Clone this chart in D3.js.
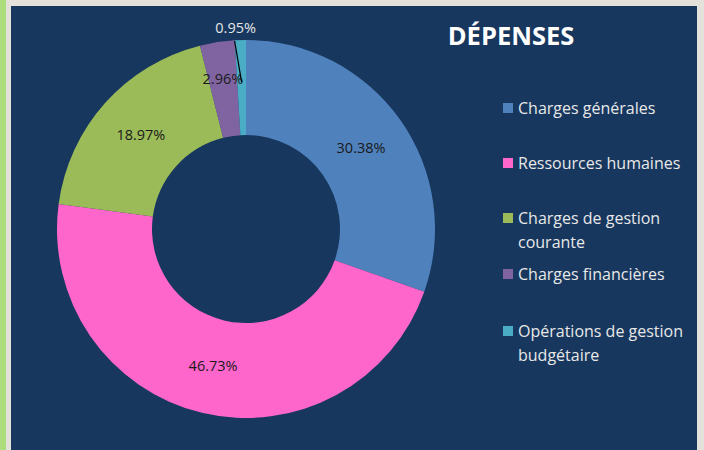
<!DOCTYPE html>
<html>
<head>
<meta charset="utf-8">
<script src="https://cdn.jsdelivr.net/npm/d3@7"></script>
<style>
  body { margin: 0; background: #e4e1db; }
  #chart { width: 704px; height: 450px; }
</style>
</head>
<body>
<div id="chart"></div>
<script>
const categories = ["Charges générales", "Ressources humaines", "Charges de gestion courante", "Charges financières", "Opérations de gestion budgétaire"];
const values = [30.38, 46.73, 18.97, 2.96, 0.95];
const colors = ["#4f81bd", "#ff66cc", "#9bbb59", "#8064a2", "#4bacc6"];
const legendLines = [["Charges générales"], ["Ressources humaines"], ["Charges de gestion", "courante"], ["Charges financières"], ["Opérations de gestion", "budgétaire"]];

function drawChart() {
    const W = 704, H = 450;
    const cx = 246, cy = 229, outerR = 189, innerR = 94;

    const svg = d3.select("#chart").append("svg")
        .attr("width", W)
        .attr("height", H);

    // fond
    svg.append("rect").attr("x", 0).attr("y", 0).attr("width", 6).attr("height", H).attr("fill", "#acdc7c");
    svg.append("rect").attr("x", 11).attr("y", 6).attr("width", 686).attr("height", H - 6).attr("fill", "#17375e");

    const pie = d3.pie().sort(null).value(d => d.value);
    const data = pie(values.map((v, i) => ({ name: categories[i], value: v, color: colors[i] })));

    const arc = d3.arc().innerRadius(innerR).outerRadius(outerR);
    const g = svg.append("g").attr("transform", `translate(${cx},${cy})`);

    g.selectAll("path")
        .data(data)
        .enter().append("path")
        .attr("d", arc)
        .attr("fill", d => d.data.color);

    const pointAt = (d, r) => {
        const a = (d.startAngle + d.endAngle) / 2;
        return [r * Math.sin(a), -r * Math.cos(a)];
    };
    const fmt = v => v.toFixed(2) + "%";

    // étiquettes
    data.forEach(d => {
        if (d.data.value < 1) {
            const [px, py] = pointAt(d, 147);
            const lx = px - 6, ly = -201;
            g.append("line")
                .attr("x1", lx - 1).attr("y1", ly + 13)
                .attr("x2", px).attr("y2", py)
                .attr("stroke", "#000").attr("stroke-width", 1.2);
            g.append("text")
                .attr("x", lx).attr("y", ly)
                .attr("text-anchor", "middle").attr("dy", "0.35em")
                .style("font-family", "'Open Sans', sans-serif")
                .style("font-size", "14.5px")
                .style("fill", "#e6e6e6")
                .text(fmt(d.data.value));
        } else {
            const r = d.data.value < 5 ? 152 : 141;
            const [px, py] = pointAt(d, r);
            g.append("text")
                .attr("x", px).attr("y", py)
                .attr("text-anchor", "middle").attr("dy", "0.35em")
                .style("font-family", "'Open Sans', sans-serif")
                .style("font-size", "14.5px")
                .style("fill", "#1a1a1a")
                .text(fmt(d.data.value));
        }
    });

    // titre
    svg.append("text")
        .attr("x", 511).attr("y", 45)
        .attr("text-anchor", "middle")
        .style("font-family", "'Open Sans', sans-serif")
        .style("font-weight", "bold")
        .style("font-size", "25.5px")
        .style("fill", "#ffffff")
        .text("DÉPENSES");

    // légende
    const rowY = [108, 163, 218, 274, 331];
    const leg = svg.append("g");
    legendLines.forEach((lines, i) => {
        leg.append("rect")
            .attr("x", 503).attr("y", rowY[i] - 5)
            .attr("width", 10).attr("height", 10)
            .attr("fill", colors[i]);
        const t = leg.append("text")
            .attr("x", 518).attr("y", rowY[i])
            .style("font-family", "'Open Sans', sans-serif")
            .style("font-size", "16px")
            .style("fill", "#e8e8e8");
        lines.forEach((ln, j) => {
            t.append("tspan").attr("x", 518).attr("dy", j === 0 ? "0.35em" : "24px").text(ln);
        });
    });
}

drawChart();
</script>
</body>
</html>
